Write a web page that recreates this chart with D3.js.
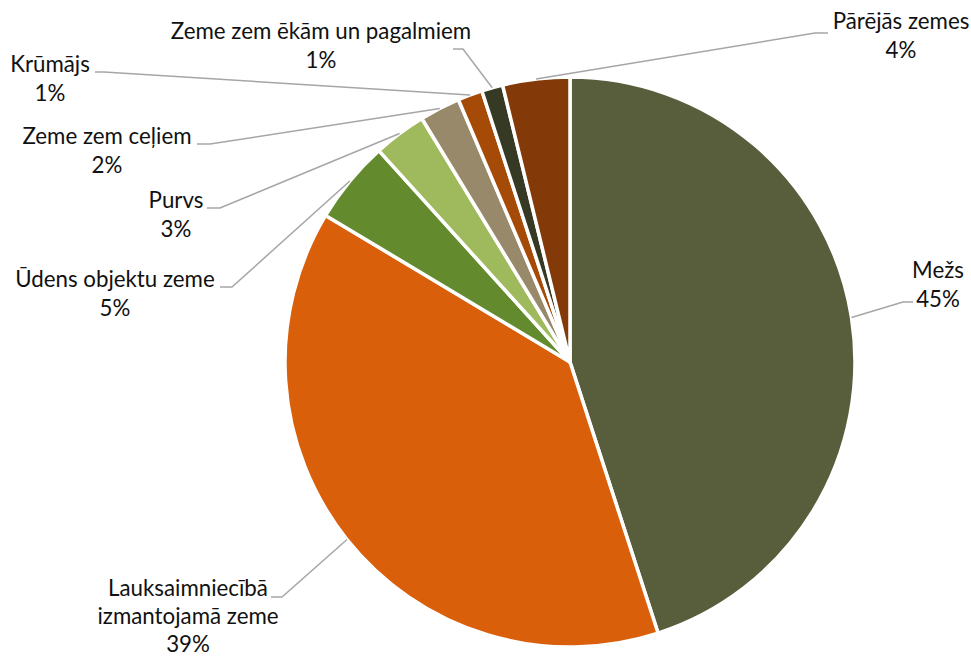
<!DOCTYPE html>
<html><head><meta charset="utf-8">
<script src="https://cdn.jsdelivr.net/npm/d3@7"></script>
<style>body{margin:0;background:#fff}svg{display:block}</style>
</head><body>
<svg id="c" width="971" height="657"></svg>
<script>
const categories = ["Mežs","Lauksaimniecībā izmantojamā zeme","Ūdens objektu zeme","Purvs","Zeme zem ceļiem","Krūmājs","Zeme zem ēkām un pagalmiem","Pārējās zemes"];
const values = [45.0, 38.6, 4.7, 3.0, 2.3, 1.4, 1.2, 3.8];
const colors = ["#585E3C","#D95F0A","#638B2D","#9FBA5C","#98896A","#A54A07","#363A24","#843A08"];
// label layout: text lines, text anchor point, elbow point, line end near text
const labelLayout = [
  {lines:["Mežs"], tx:938, ty:278, elbow:[903,302], end:[913,302]},
  {lines:["Lauksaimniecībā","izmantojamā zeme"], tx:188, ty:596, lh:28, elbow:[282,597], end:[271,597]},
  {lines:["Ūdens objektu zeme"], tx:115, ty:287, elbow:[232,287], end:[220,287]},
  {lines:["Purvs"], tx:176, ty:208, elbow:[220,208], end:[207,208]},
  {lines:["Zeme zem ceļiem"], tx:107, ty:144, elbow:[210,144], end:[197,144]},
  {lines:["Krūmājs"], tx:50, ty:72, elbow:[104,72], end:[95,72]},
  {lines:["Zeme zem ēkām un pagalmiem"], tx:321, ty:39, elbow:[463,49], end:[453,49]},
  {lines:["Pārējās zemes"], tx:901, ty:29, elbow:[815,33], end:[828,33]}
];
const cx = 570, cy = 362, R = 285;
const total = d3.sum(values);
const svg = d3.select("#c");
const g = svg.append("g").attr("transform",`translate(${cx},${cy})`);
const pie = d3.pie().sort(null).value(d=>d);
const arcs = pie(values);
const arc = d3.arc().innerRadius(0).outerRadius(R);
g.selectAll("path.slice").data(arcs).join("path")
  .attr("class","slice").attr("d",arc)
  .attr("fill",(d,i)=>colors[i]).attr("stroke","#fff").attr("stroke-width",3.5).attr("stroke-linejoin","round");

const font = "Lato, 'Open Sans', sans-serif";
const fs = 22.3, lhDefault = 29;
arcs.forEach((a,i)=>{
  const L = labelLayout[i];
  const lh = L.lh || lhDefault;
  const mid = (a.startAngle+a.endAngle)/2;
  const sx = cx + R*Math.sin(mid), sy = cy - R*Math.cos(mid);
  svg.append("polyline")
    .attr("points",`${sx},${sy} ${L.elbow[0]},${L.elbow[1]} ${L.end[0]},${L.end[1]}`)
    .attr("fill","none").attr("stroke","#A6A6A6").attr("stroke-width",1.5);
  const lines = L.lines.concat([Math.round(values[i]/total*100)+"%"]);
  const t = svg.append("text").attr("x",L.tx).attr("y",L.ty)
    .attr("text-anchor","middle").attr("font-family",font).attr("font-size",fs).attr("fill","#111");
  lines.forEach((s,k)=>{
    t.append("tspan").attr("x",L.tx).attr("dy",k===0?0:lh).text(s);
  });
});
</script>
</body></html>
